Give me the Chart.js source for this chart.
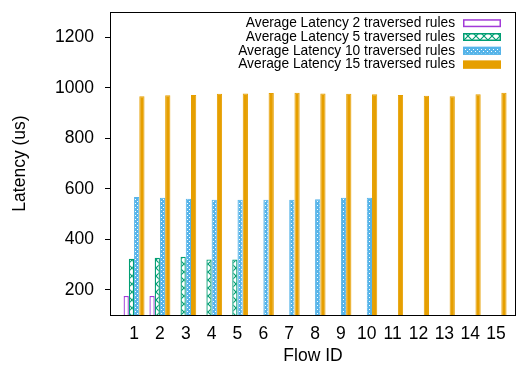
<!DOCTYPE html>
<html>
<head>
<meta charset="utf-8">
<script src="https://cdn.jsdelivr.net/npm/chart.js@4.4.0/dist/chart.umd.min.js"></script>
<style>
  html, body { margin: 0; padding: 0; background: #fff; }
</style>
</head>
<body>
<canvas id="latency-chart" width="517" height="370"></canvas>
<script>
// values (us)
const flowIds = [1, 2, 3, 4, 5, 6, 7, 8, 9, 10, 11, 12, 13, 14, 15];
const latency2 = [175, 175];
const latency5 = [323, 327, 331, 320, 320];
const latency10 = [567, 564, 560, 556, 556, 556, 556, 558, 564, 564];
const latency15 = [966, 970, 971, 976, 977, 979, 980, 977, 976, 974, 971, 968, 966, 974, 980];
const seriesLabels = [
  'Average Latency 2 traversed rules',
  'Average Latency 5 traversed rules',
  'Average Latency 10 traversed rules',
  'Average Latency 15 traversed rules'
];
const yTicks = [200, 400, 600, 800, 1000, 1200];

const FONT = '"Liberation Sans", Arial, sans-serif';

function makePattern(size, draw) {
  const c = document.createElement('canvas');
  c.width = size; c.height = size;
  draw(c.getContext('2d'), size);
  return c.getContext('2d').createPattern(c, 'repeat');
}

const crossHatch = makePattern(8, (g, s) => {
  g.fillStyle = '#fff'; g.fillRect(0, 0, s, s);
  g.strokeStyle = '#009e73'; g.lineWidth = 1.2;
  g.beginPath();
  g.moveTo(0, 0); g.lineTo(s, s);
  g.moveTo(s, 0); g.lineTo(0, s);
  g.stroke();
});

const dotted = makePattern(4, (g, s) => {
  g.fillStyle = '#56b4e9'; g.fillRect(0, 0, s, s);
  g.fillStyle = '#ffffff';
  g.fillRect(1, 1, 1, 1);
  g.fillRect(3, 3, 1, 1);
});

const toPoints = values => values.map((v, i) => ({ x: flowIds[i], y: v }));

const frameAndKey = {
  id: 'frameAndKey',
  afterDraw(chart) {
    const { ctx, chartArea: a } = chart;
    ctx.save();
    ctx.strokeStyle = '#000';
    ctx.lineWidth = 1;
    ctx.strokeRect(a.left + 0.5, a.top + 0.5, a.right - a.left - 1, a.bottom - a.top);

    ctx.font = '13.75px ' + FONT;
    ctx.textAlign = 'right';
    ctx.textBaseline = 'middle';
    chart.data.datasets.forEach((ds, i) => {
      const y = a.top + 11.2 + i * 13.8;
      ctx.fillStyle = '#000';
      ctx.fillText(ds.label, a.right - 61, y);
      ctx.fillStyle = ds.backgroundColor;
      ctx.fillRect(a.right - 53, y - 4, 38, 8);
      ctx.strokeStyle = ds.borderColor;
      ctx.lineWidth = 1.5;
      ctx.strokeRect(a.right - 52.25, y - 3.25, 36.5, 6.5);
    });
    ctx.restore();
  }
};

const canvas = document.getElementById('latency-chart');
const latencyChart = new Chart(canvas, {
  type: 'bar',
  data: {
    datasets: [{
      label: seriesLabels[0],
      data: toPoints(latency2),
      backgroundColor: '#ffffff',
      borderColor: '#a23ad8',
      borderWidth: 1.3
    }, {
      label: seriesLabels[1],
      data: toPoints(latency5),
      backgroundColor: crossHatch,
      borderColor: '#009e73',
      borderWidth: 1.3
    }, {
      label: seriesLabels[2],
      data: toPoints(latency10),
      backgroundColor: dotted,
      borderColor: '#56b4e9',
      borderWidth: 1
    }, {
      label: seriesLabels[3],
      data: toPoints(latency15),
      backgroundColor: '#e69f00',
      borderColor: '#e69f00',
      borderWidth: 1
    }]
  },
  options: {
    responsive: false,
    animation: false,
    categoryPercentage: 0.81,
    barPercentage: 1.0,
    layout: { padding: { top: 12, right: 1, left: 0, bottom: 0 } },
    plugins: {
      legend: { display: false },
      tooltip: { enabled: false }
    },
    scales: {
      x: {
        type: 'linear',
        offset: false,
        min: 0.07,
        max: 15.77,
        afterBuildTicks: scale => { scale.ticks = flowIds.map(v => ({ value: v })); },
        afterFit: scale => {
          scale.height = 55;
          scale.paddingLeft = 0;
          scale.paddingRight = 0;
        },
        grid: { display: false, drawTicks: false },
        border: { display: false },
        ticks: {
          color: '#000',
          padding: 9,
          maxRotation: 0,
          autoSkip: false,
          callback: v => String(v),
          font: { family: FONT, size: 17.5 }
        },
        title: {
          display: true,
          text: 'Flow ID',
          color: '#000',
          padding: { top: 0, bottom: 3 },
          font: { family: FONT, size: 17.5 }
        }
      },
      y: {
        min: 100,
        max: 1300,
        afterBuildTicks: scale => { scale.ticks = yTicks.map(v => ({ value: v })); },
        afterFit: scale => {
          scale.width = 110;
          scale.paddingTop = 0;
          scale.paddingBottom = 0;
        },
        grid: { drawOnChartArea: false, tickLength: 5, color: '#000' },
        border: { display: false },
        ticks: {
          color: '#000',
          padding: 11,
          callback: v => String(v),
          font: { family: FONT, size: 17.5 }
        },
        title: {
          display: true,
          text: 'Latency (us)',
          color: '#000',
          padding: { top: 10, bottom: 0 },
          font: { family: FONT, size: 17.5 }
        }
      }
    }
  },
  plugins: [frameAndKey]
});
</script>
</body>
</html>
